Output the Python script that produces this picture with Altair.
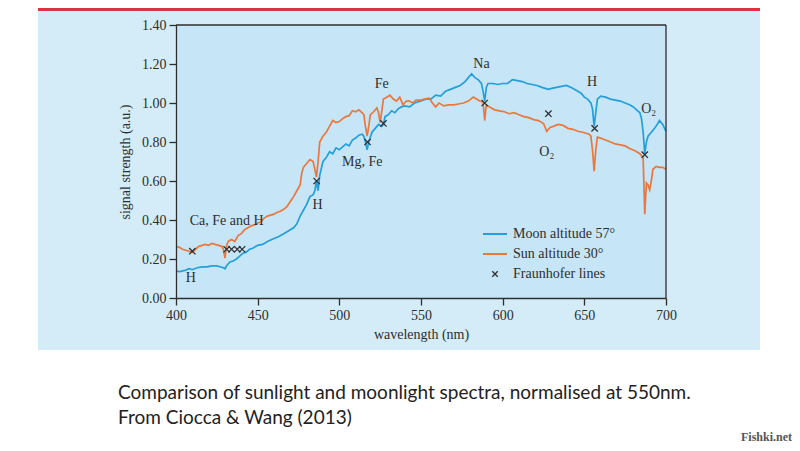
import altair as alt
import pandas as pd

# ---------------- data ----------------
moon_nm = [400, 402, 405, 408, 410, 413, 416, 419, 422, 425, 427, 429, 430, 431, 433, 435, 437, 439, 441, 443,
           445, 447, 450, 453, 456, 460, 463, 466, 469, 472, 474, 476, 478, 480, 482, 484, 485, 486, 487, 488,
           490, 492, 494, 496, 498, 500, 502, 504, 506, 508, 510, 512, 514, 515, 516, 517, 518, 520, 522, 524,
           526, 527, 528, 530, 532, 534, 536, 538, 540, 543, 546, 550, 553, 556, 559, 562, 565, 568, 571, 574,
           577, 579, 581, 583, 585, 587, 588, 589, 590, 591, 594, 597, 600, 603, 606, 609, 612, 615, 618, 621,
           624, 626, 628, 630, 633, 636, 639, 642, 645, 648, 650, 652, 654, 655, 656, 657, 658, 660, 663, 666,
           669, 672, 675, 678, 680, 682, 684, 685, 686, 687, 688, 689, 691, 693, 695, 696, 698, 700]
moon_val = [0.14, 0.135, 0.14, 0.15, 0.145, 0.155, 0.16, 0.16, 0.165, 0.165, 0.16, 0.155, 0.15, 0.165, 0.185, 0.19, 0.20, 0.215, 0.23, 0.235,
            0.25, 0.255, 0.27, 0.275, 0.29, 0.305, 0.315, 0.33, 0.345, 0.36, 0.38, 0.42, 0.45, 0.48, 0.52, 0.53, 0.55, 0.60, 0.55, 0.63,
            0.70, 0.72, 0.75, 0.74, 0.77, 0.76, 0.775, 0.79, 0.78, 0.81, 0.82, 0.835, 0.84, 0.83, 0.80, 0.76, 0.80, 0.85, 0.87, 0.89,
            0.88, 0.89, 0.93, 0.94, 0.96, 0.95, 0.97, 0.98, 0.985, 0.98, 1.00, 1.01, 1.02, 1.02, 1.04, 1.035, 1.06, 1.07, 1.08, 1.09,
            1.11, 1.13, 1.15, 1.13, 1.12, 1.10, 1.06, 1.01, 1.08, 1.10, 1.10, 1.095, 1.10, 1.10, 1.12, 1.115, 1.11, 1.10, 1.095, 1.09,
            1.08, 1.075, 1.07, 1.075, 1.08, 1.085, 1.09, 1.08, 1.065, 1.05, 1.03, 1.02, 1.00, 0.97, 0.88, 0.95, 1.02, 1.035, 1.03, 1.02,
            1.015, 1.01, 1.00, 0.99, 0.98, 0.965, 0.95, 0.92, 0.85, 0.74, 0.80, 0.83, 0.85, 0.87, 0.895, 0.91, 0.89, 0.855]

sun_nm = [400, 402, 404, 406, 408, 410, 412, 414, 416, 418, 420, 422, 424, 426, 428, 429, 430, 431, 432, 434,
          436, 438, 440, 442, 444, 446, 448, 450, 452, 454, 456, 458, 460, 462, 464, 466, 468, 470, 472, 474,
          476, 477, 478, 480, 482, 484, 485, 486, 487, 488, 490, 492, 494, 496, 498, 500, 502, 504, 506, 508,
          510, 512, 514, 515, 516, 517, 518, 519, 521, 523, 524, 525, 526, 527, 529, 531, 533, 535, 537, 539,
          541, 543, 545, 547, 550, 552, 555, 557, 559, 561, 564, 567, 570, 573, 576, 579, 582, 584, 586, 588,
          589, 590, 592, 595, 598, 601, 604, 607, 610, 613, 616, 619, 622, 625, 627, 629, 631, 634, 637, 640,
          643, 646, 649, 651, 653, 654, 655, 656, 657, 658, 660, 663, 666, 669, 672, 675, 678, 681, 684, 686,
          687, 688, 689, 690, 691, 692, 694, 696, 698, 700]
sun_val = [0.265, 0.26, 0.25, 0.245, 0.24, 0.235, 0.25, 0.265, 0.27, 0.275, 0.27, 0.28, 0.275, 0.27, 0.265, 0.25, 0.205, 0.27, 0.29, 0.30,
           0.29, 0.32, 0.33, 0.35, 0.36, 0.37, 0.375, 0.385, 0.39, 0.41, 0.42, 0.425, 0.43, 0.44, 0.445, 0.455, 0.47, 0.495, 0.52, 0.55,
           0.58, 0.64, 0.67, 0.69, 0.71, 0.70, 0.66, 0.62, 0.70, 0.80, 0.83, 0.85, 0.88, 0.91, 0.90, 0.905, 0.92, 0.93, 0.935, 0.96,
           0.955, 0.965, 0.95, 0.94, 0.88, 0.83, 0.88, 0.94, 0.955, 0.975, 0.95, 0.90, 0.96, 1.02, 1.03, 1.04, 1.02, 1.01, 1.03, 0.99,
           1.01, 1.01, 1.00, 1.015, 1.015, 1.02, 1.025, 1.00, 0.98, 1.00, 0.985, 0.99, 0.99, 0.995, 1.00, 1.01, 1.03, 1.02, 1.01, 1.005,
           0.91, 0.99, 0.98, 0.965, 0.96, 0.955, 0.945, 0.95, 0.94, 0.93, 0.925, 0.915, 0.91, 0.895, 0.855, 0.875, 0.88, 0.89, 0.885, 0.87,
           0.865, 0.855, 0.85, 0.845, 0.84, 0.83, 0.76, 0.65, 0.76, 0.825, 0.82, 0.81, 0.80, 0.79, 0.785, 0.78, 0.765, 0.755, 0.74, 0.72,
           0.43, 0.59, 0.58, 0.555, 0.60, 0.66, 0.675, 0.67, 0.67, 0.66]

fraun_nm = [410, 431, 434, 437.5, 440.5, 486.1, 517.3, 527, 589, 628, 656.3, 687]
fraun_val = [0.24, 0.25, 0.25, 0.25, 0.25, 0.60, 0.80, 0.895, 1.00, 0.945, 0.87, 0.735]

label_text = ["Ca, Fe and H", "H", "H", "Mg, Fe", "Fe", "Na", "H", "O\u2082", "O\u2082"]
label_nm = [431, 409, 486.6, 514, 526, 587, 654.8, 627, 689.4]
label_val = [0.393, 0.102, 0.478, 0.695, 1.098, 1.199, 1.11, 0.751, 0.968]

legend_labels = ["Moon altitude 57\u00b0", "Sun altitude 30\u00b0", "Fraunhofer lines"]
caption_lines = ["Comparison of sunlight and moonlight spectra, normalised at 550nm.",
                 "From Ciocca & Wang (2013)"]
x_ticks = [400, 450, 500, 550, 600, 650, 700]
y_ticks = [0.0, 0.2, 0.4, 0.6, 0.8, 1.0, 1.2, 1.4]

# ---------------- styling ----------------
W, H = 490, 273
BLUE = "#22a0db"
ORANGE = "#ea773d"
INK = "#2e2e2e"
SERIF = "Liberation Serif"
PANEL = "#d4ecf8"
PLOT = "#c6e5f6"

moon_df = pd.DataFrame({"nm": moon_nm, "v": moon_val})
sun_df = pd.DataFrame({"nm": sun_nm, "v": sun_val})
fr_df = pd.DataFrame({"nm": fraun_nm, "v": fraun_val})
lab_df = pd.DataFrame({"nm": label_nm, "v": label_val, "t": label_text})

xs = alt.Scale(domain=[400, 700], nice=False, zero=False)
ys = alt.Scale(domain=[0, 1.4], nice=False)

common_axis = dict(grid=False, zindex=1, labelOverlap=False, labelBound=False, labelFlush=False,
                   labelFont=SERIF, labelFontSize=14, labelColor=INK, tickColor=INK, domainColor=INK,
                   domainWidth=1.3, tickWidth=1.3, tickSize=7, labelPadding=3,
                   titleFont=SERIF, titleFontWeight="normal", titleColor=INK, titleFontSize=14)
x_axis = alt.Axis(values=x_ticks, tickCount=len(x_ticks), title="wavelength (nm)",
                  titlePadding=5, **common_axis)
y_axis = alt.Axis(values=y_ticks, tickCount=len(y_ticks), format=".2f", title="signal strength (a.u.)",
                  titlePadding=9, **common_axis)

X = alt.X("nm:Q", scale=xs, axis=x_axis)
Y = alt.Y("v:Q", scale=ys, axis=y_axis)

one = pd.DataFrame({"k": [0]})

panel = alt.Chart(one).mark_rect(color=PANEL).encode(
    x=alt.value(-138), x2=alt.value(584), y=alt.value(-17), y2=alt.value(325))
redband = alt.Chart(one).mark_rect(color="#d9343f").encode(
    x=alt.value(-138), x2=alt.value(584), y=alt.value(-17), y2=alt.value(-14))
plotbg = alt.Chart(one).mark_rect(color=PLOT).encode(
    x=alt.value(0), x2=alt.value(W), y=alt.value(0), y2=alt.value(H))
frame_top = alt.Chart(one).mark_rule(color=INK, strokeWidth=1.3).encode(
    x=alt.value(0), x2=alt.value(W), y=alt.value(0))
frame_right = alt.Chart(one).mark_rule(color=INK, strokeWidth=1.3).encode(
    x=alt.value(W), y=alt.value(0), y2=alt.value(H))

moon = alt.Chart(moon_df).mark_line(color=BLUE, strokeWidth=1.7).encode(x=X, y=Y, order="nm:Q")
sun = alt.Chart(sun_df).mark_line(color=ORANGE, strokeWidth=1.7).encode(x=X, y=Y, order="nm:Q")

XPATH = "M-1,-1L1,1M-1,1L1,-1"
fr = alt.Chart(fr_df).mark_point(shape=XPATH, size=40, color=INK, strokeWidth=1.3, filled=False, opacity=1).encode(
    x=X, y=Y)

labels = alt.Chart(lab_df).mark_text(font=SERIF, fontSize=14, color=INK, align="center", baseline="middle").encode(
    x=X, y=Y, text="t:N")

# legend (drawn manually inside plot)
leg_line1 = alt.Chart(one).mark_rule(color=BLUE, strokeWidth=2).encode(
    x=alt.value(307), x2=alt.value(331), y=alt.value(209))
leg_line2 = alt.Chart(one).mark_rule(color=ORANGE, strokeWidth=2).encode(
    x=alt.value(307), x2=alt.value(331), y=alt.value(229))
leg_x = alt.Chart(one).mark_point(shape=XPATH, size=30, color=INK, strokeWidth=1.3, filled=False, opacity=1).encode(
    x=alt.value(319), y=alt.value(249))
leg_text = [
    alt.Chart(pd.DataFrame({"t": [legend_labels[i]]})).mark_text(
        font=SERIF, fontSize=14, color=INK, align="left", baseline="middle").encode(
        x=alt.value(337), y=alt.value(209 + 20 * i), text="t:N")
    for i in range(3)
]

captions = [
    alt.Chart(pd.DataFrame({"t": [caption_lines[i]]})).mark_text(
        font="Lato", fontSize=19, color="#222222", align="left", baseline="middle").encode(
        x=alt.value(-58), y=alt.value(368 + 25 * i), text="t:N")
    for i in range(2)
]
watermark = alt.Chart(pd.DataFrame({"t": ["Fishki.net"]})).mark_text(
    font="Liberation Sans Narrow", fontSize=12, fontWeight="bold", color="#555555", align="right",
    baseline="middle").encode(
    x=alt.value(616), y=alt.value(412), text="t:N")

chart = alt.layer(
    panel, redband, plotbg, moon, sun, fr, labels, frame_top, frame_right,
    leg_line1, leg_line2, leg_x, *leg_text, *captions, watermark
).properties(
    width=W, height=H,
    autosize=alt.AutoSizeParams(type="none"),
    padding={"left": 168, "top": 17, "right": 126, "bottom": 145},
    background="white",
).configure_view(stroke=None).configure_axis(labelOverlap=False)

chart.save("out.html", embed_options={"renderer": "svg", "actions": False})
